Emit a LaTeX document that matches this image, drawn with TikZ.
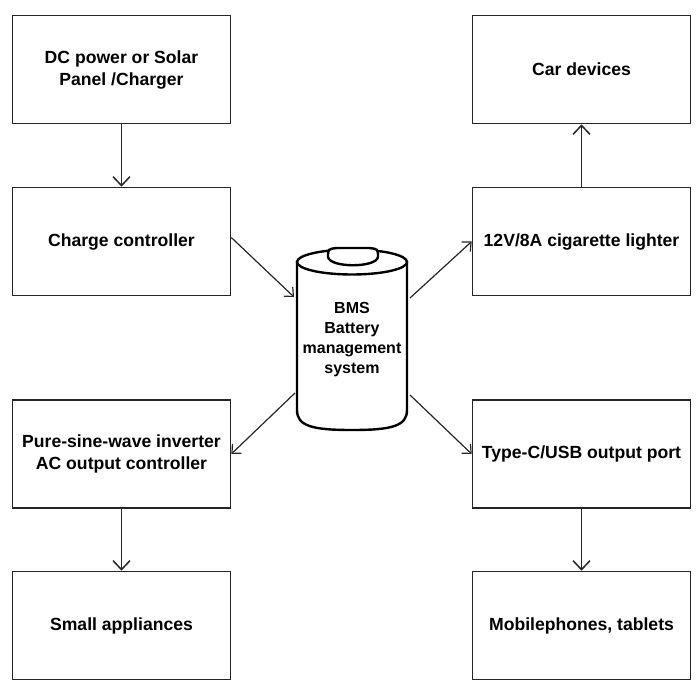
\documentclass[tikz,border=0pt]{standalone}
\usepackage{fontspec}
\setmainfont{Liberation Sans}
\usetikzlibrary{arrows.meta}
\begin{document}
\begin{tikzpicture}[x=1pt,y=-1pt,
  box/.style={draw=black!85, line width=1.6pt, minimum width=218pt, minimum height=108pt,
    align=center, inner sep=0pt, font=\fontsize{17.6}{22}\selectfont\bfseries},
  arr/.style={draw=black!85, line width=1.5pt, -{Straight Barb[length=9pt,width=17pt]}},
  darr/.style={draw=black!85, line width=1.2pt, -{Straight Barb[length=7pt,width=13pt]}},
  cyl/.style={draw=black, line width=2.4pt, fill=white}]
\useasboundingbox (0,0) rectangle (698,693);
% boxes
\node[box] (dc)   at (121.5,69.5)  {DC power or Solar\\Panel /Charger};
\node[box] (cc)   at (121.5,241.5) {Charge controller};
\node[box] (inv)  at (121.5,454)   {Pure-sine-wave inverter\\AC output controller};
\node[box] (sa)   at (121.5,625.5) {Small appliances};
\node[box] (car)  at (581.5,69.5)  {Car devices};
\node[box] (cig)  at (581.5,241.5) {12V/8A cigarette lighter};
\node[box] (usb)  at (581.5,454)   {Type-C/USB output port};
\node[box] (mob)  at (581.5,625.5) {Mobilephones, tablets};
% battery cylinder
\draw[cyl] (297,262) -- (297,410) .. controls (297,426) and (312,430) .. (352,430)
  .. controls (392,430) and (407,426) .. (407,410) -- (407,262) -- cycle;
\draw[cyl] (352,262) ellipse[x radius=55, y radius=12.5];
\draw[cyl] (328,257) .. controls (328,249) .. (337,248) -- (369,248)
  .. controls (378,249) .. (378,257) .. controls (376,268) and (330,268) .. (328,257) -- cycle;
\node[align=center, inner sep=0pt, minimum width=110pt, minimum height=164pt,
  font=\fontsize{16}{20}\selectfont\bfseries] (bms) at (352,340)
  {BMS\\Battery\\management\\system};
\coordinate (bmsinW) at (294,297);
\coordinate (bmsoutE) at (410,298);
\coordinate (bmsoutW) at (295,393);
\coordinate (bmsoutE2) at (410,395);
% connectors
\draw[arr] (dc) -- (cc);
\draw[arr] (inv) -- (sa);
\draw[arr] (usb) -- (mob);
\draw[arr] (cig) -- (car);
\draw[darr] (cc.east) ++(0,-4) coordinate (ccE) (ccE) -- (bmsinW);
\draw[darr] (bmsoutE) -- (cig.west);
\draw[darr] (bmsoutW) -- (inv.east);
\draw[darr] (bmsoutE2) -- (usb.west);
\end{tikzpicture}
\end{document}
